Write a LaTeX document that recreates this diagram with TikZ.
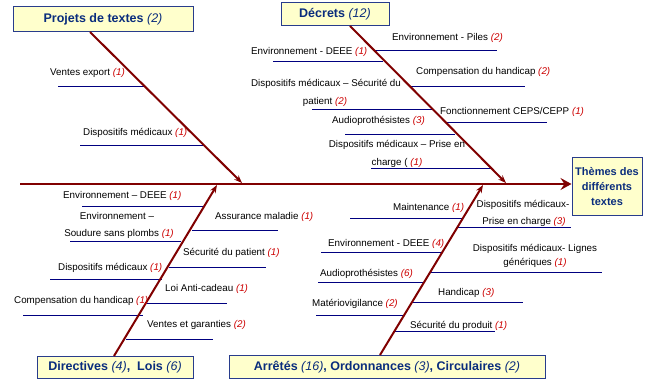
\documentclass[tikz,border=0pt]{standalone}
\usepackage{fontspec}
\setmainfont{Liberation Sans}
\usetikzlibrary{arrows.meta}
\definecolor{bonec}{RGB}{128,0,0}
\definecolor{subc}{RGB}{0,0,128}
\definecolor{boxb}{RGB}{40,60,140}
\definecolor{boxf}{RGB}{255,255,204}
\definecolor{boxt}{RGB}{10,45,125}
\definecolor{numred}{RGB}{204,0,0}
\newcommand{\rednum}[1]{{\color{numred}\itshape(#1)}}
\newcommand{\bluenum}[1]{{\mdseries\itshape(#1)}}
\begin{document}
\begin{tikzpicture}[x=1pt,y=-1pt,
  lbl/.style={inner sep=0pt, font=\fontsize{9.8}{12}\selectfont, anchor=base west},
  lblc/.style={lbl, anchor=base},
  sub/.style={draw=subc, line width=1pt},
  bone/.style={draw=bonec, line width=2pt, -{Stealth[length=8pt,width=6pt]}},
  spine/.style={draw=bonec, line width=2.5pt, -{Stealth[length=11pt,width=12pt,inset=4pt]}},
  box/.style={draw=boxb, fill=boxf, line width=1pt, text=boxt, font=\fontsize{12.5}{15}\selectfont\bfseries, inner sep=0pt, align=center}]
\useasboundingbox (0,0) rectangle (648,382);

% boxes
\node[box, minimum width=180pt, minimum height=25pt] (proj) at (103,19.5) {Projets de textes \bluenum{2}};
\node[box, minimum width=108pt, minimum height=23pt] (decr) at (335,14.5) {Décrets \bluenum{12}};
\node[box, minimum width=156pt, minimum height=22pt] (dirl) at (115,367) {Directives \bluenum{4}, \ Lois \bluenum{6}};
\node[box, minimum width=316pt, minimum height=23pt] (arre) at (387,367) {Arrêtés \bluenum{16}, Ordonnances \bluenum{3}, Circulaires \bluenum{2}};
\node[box, minimum width=70pt, minimum height=58pt, font=\fontsize{11}{15}\selectfont\bfseries] (theme) at (607,187) {Thèmes des\\différents\\textes};

% coordinates of bones
\coordinate (sL) at (20,184);
\coordinate (projfoot) at (90,32);
\coordinate (projtip) at (242,183);
\coordinate (decrfoot) at (350,26);
\coordinate (decrtip) at (506,183);
\coordinate (dirlfoot) at (114,356);
\coordinate (dirltip) at (217,185);
\coordinate (arrefoot) at (380,355);
\coordinate (arretip) at (483,185);

% sub-bone lines
\draw[sub] (58,87) -- (144,87);
\draw[sub] (80,146) -- (204,146);

\draw[sub] (375,51) -- (497,51);
\draw[sub] (273,62) -- (383,62);
\draw[sub] (410,87) -- (525,87);
\draw[sub] (312,110) -- (433,110);
\draw[sub] (447,123) -- (547,123);
\draw[sub] (345,135) -- (455,135);
\draw[sub] (371,169) -- (493,169);

\draw[sub] (82,207) -- (204,207);
\draw[sub] (70,242) -- (181,242);
\draw[sub] (50,279) -- (162,279);
\draw[sub] (23,315) -- (143,315);
\draw[sub] (192,231) -- (278,231);
\draw[sub] (169,267) -- (266,267);
\draw[sub] (147,303) -- (227,303);
\draw[sub] (126,339) -- (213,339);

\draw[sub] (350,219) -- (462,219);
\draw[sub] (321,253) -- (442,253);
\draw[sub] (318,282) -- (425,282);
\draw[sub] (316,315) -- (403,315);
\draw[sub] (457,228) -- (571,228);
\draw[sub] (430,272) -- (602,272);
\draw[sub] (413,302) -- (523,302);
\draw[sub] (394,331) -- (495,331);

% spine and bones
\draw[spine] (sL) -- (theme.west |- sL);
\draw[bone] (projfoot) -- (projtip);
\draw[bone] (decrfoot) -- (decrtip);
\draw[bone] (dirlfoot) -- (dirltip);
\draw[bone] (arrefoot) -- (arretip);

% labels: Projets
\node[lbl] (p1) at (50,75.5) {Ventes export \rednum{1}};
\node[lbl] (p2) at (83,135.5) {Dispositifs médicaux \rednum{1}};

% labels: Décrets
\node[lbl] (d1) at (392,40.5) {Environnement - Piles \rednum{2}};
\node[lbl] (d2) at (251,54.5) {Environnement - DEEE \rednum{1}};
\node[lbl] (d3) at (416,74.5) {Compensation du handicap \rednum{2}};
\node[lblc] (d4a) at (326,86.5) {Dispositifs médicaux – Sécurité du};
\node[lblc] (d4b) at (325,104.5) {patient \rednum{2}};
\node[lbl] (d5) at (440,114.5) {Fonctionnement CEPS/CEPP \rednum{1}};
\node[lbl] (d6) at (332,123.5) {Audioprothésistes \rednum{3}};
\node[lblc] (d7a) at (397,147.5) {Dispositifs médicaux – Prise en};
\node[lblc] (d7b) at (397,165.5) {charge ( \rednum{1}};

% labels: Directives / Lois
\node[lbl] (l1) at (63,198.5) {Environnement – DEEE \rednum{1}};
\node[lblc] (l2a) at (117,219.5) {Environnement –};
\node[lblc] (l2b) at (119,236.5) {Soudure sans plombs \rednum{1}};
\node[lbl] (l3) at (58,270.5) {Dispositifs médicaux \rednum{1}};
\node[lbl] (l4) at (14,303.5) {Compensation du handicap \rednum{1}};
\node[lbl] (l5) at (215,219.5) {Assurance maladie \rednum{1}};
\node[lbl] (l6) at (183,255.5) {Sécurité du patient \rednum{1}};
\node[lbl] (l7) at (165,291.5) {Loi Anti-cadeau \rednum{1}};
\node[lbl] (l8) at (147,327.5) {Ventes et garanties \rednum{2}};

% labels: Arrêtés
\node[lbl] (a1) at (393,210.5) {Maintenance \rednum{1}};
\node[lbl] (a2) at (328,246.5) {Environnement - DEEE \rednum{4}};
\node[lbl] (a3) at (320,276.5) {Audioprothésistes \rednum{6}};
\node[lbl] (a4) at (312,306.5) {Matériovigilance \rednum{2}};
\node[lblc] (a5a) at (523,207.5) {Dispositifs médicaux-};
\node[lblc] (a5b) at (524,224.5) {Prise en charge \rednum{3}};
\node[lblc] (a6a) at (535,251.5) {Dispositifs médicaux- Lignes};
\node[lblc] (a6b) at (535,265.5) {génériques \rednum{1}};
\node[lbl] (a7) at (438,295.5) {Handicap \rednum{3}};
\node[lbl] (a8) at (410,328.5) {Sécurité du produit \rednum{1}};
\end{tikzpicture}
\end{document}
